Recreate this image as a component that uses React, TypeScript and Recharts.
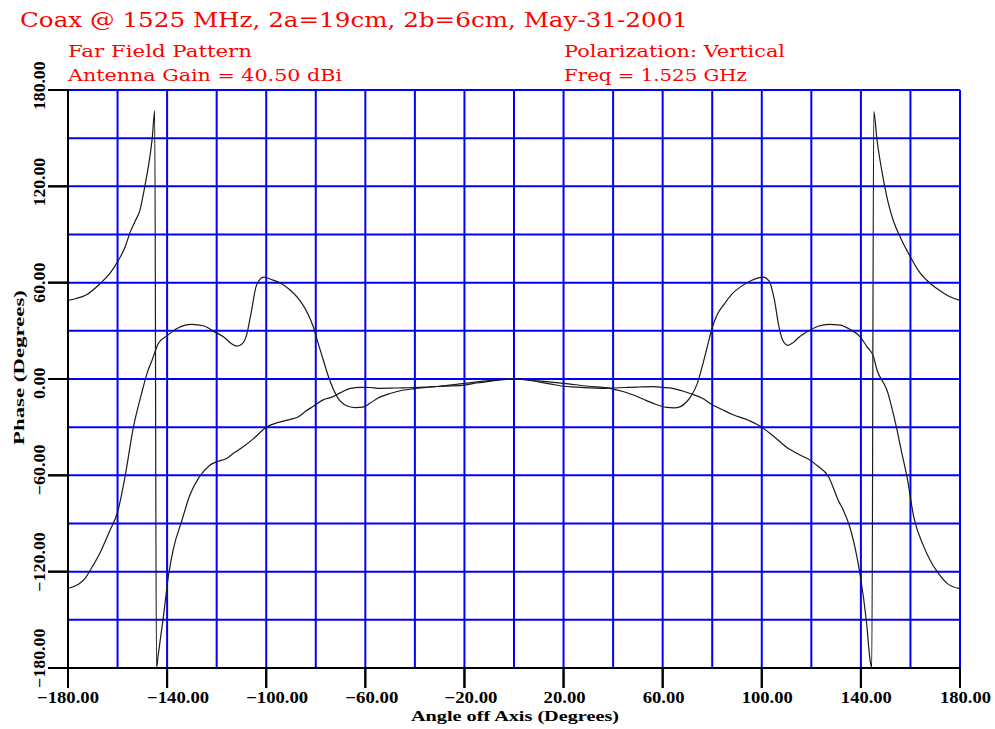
import { LineChart, Line, XAxis, YAxis, CartesianGrid } from "recharts";

// far field phase, two traces, angle in degrees
const gridAngles = [-180, -160, -140, -120, -100, -80, -60, -40, -20, 0, 20, 40, 60, 80, 100, 120, 140, 160, 180];
const gridPhases = [-180, -150, -120, -90, -60, -30, 0, 30, 60, 90, 120, 150, 180];
const angleLabels = [-180, -140, -100, -60, -20, 20, 60, 100, 140, 180];
const phaseLabels = [-180, -120, -60, 0, 60, 120, 180];

const traceAAngles = [
  -180, -177, -172.5, -167, -163, -160, -157, -155, -153, -151, -149, -147, -146, -145,
  -144.3, -143.6, -141.5, -139.5, -137.5, -134, -131, -127, -123, -120, -116, -113, -110,
  -105, -100, -95, -90, -87, -84, -81, -77, -73, -70, -66, -62, -58, -55, -50, -45, -40,
  -35, -30, -25, -20, -15, -10, -5, 0,
  5, 10, 15, 20, 25, 30, 35, 40, 45, 50, 56, 60, 64, 68, 72, 76, 80, 84, 88, 95, 100, 105,
  110, 115, 120, 122, 127, 131, 133, 135.5, 138.3, 139.6, 142.3, 143.7, 144.4, 145.2,
  146.5, 149, 151, 153, 156, 160, 163, 168, 172, 176, 180,
];
const traceAPhases = [
  49, 50, 52.5, 59.5, 66, 73, 82, 91, 98, 105, 120, 138, 150, 167,
  -180, -172, -148, -123, -106, -88, -73, -61, -54, -51.5, -49.5, -46, -43,
  -37, -30, -27, -25, -23.5, -20, -17, -13, -11, -8.5, -5.8, -5.2, -5.3, -5.8, -5.7, -5.5, -5.4,
  -5, -4.5, -4.3, -3.8, -2.5, -1.5, -0.4, 0,
  -0.5, -1.8, -3.2, -4.5, -5, -5.5, -5.8, -5.6, -5.3, -5, -4.8, -5.2, -5.8, -7.5, -9.5, -12, -16, -19, -22, -26, -30, -36,
  -42.5, -47, -51, -53.5, -61, -76, -82, -92, -110, -121, -152, -175, -180, 166.5,
  149, 125, 110, 99, 88, 76, 68, 59.5, 55, 51.2, 49,
];

const traceBAngles = [
  -180, -176, -173, -171, -167, -163, -160, -157, -153.6, -150.3, -148, -146, -143.6, -140,
  -136, -130, -125, -121, -117, -114, -112, -110, -108, -106, -104, -101, -98, -94, -90,
  -86, -83, -81, -79, -77, -75, -73, -70, -67, -64, -61, -58, -55, -50, -45, -40, -30,
  -20, -10, 0,
  10, 20, 30, 38.7, 44, 48.2, 52, 56.2, 61.6, 64.5, 67.2, 69.5, 71.3, 74, 76, 78, 80,
  82, 85, 88, 92, 96, 100.5, 103, 105, 107, 108.5, 110.5, 112.5, 115, 119, 123, 127,
  131.6, 135.5, 139.7, 142.5, 145.1, 146.5, 149.2, 150.5, 152.5, 154.6, 156.5, 158.6,
  161.3, 165.4, 168, 170.8, 174.8, 179.5, 180,
];
const traceBPhases = [
  -130.5, -128, -124, -119, -108, -94, -83, -61, -30, -9, 4, 12, 22, 27,
  31.5, 34, 33, 29.5, 26, 22, 20.5, 21.5, 27, 42, 58, 63.5, 62, 59.5, 55,
  48, 40, 32.5, 22, 12, 2, -6, -14, -17, -17.8, -17.5, -15, -12, -9, -7, -6, -4.5,
  -2.7, -1, 0,
  -1.2, -2.7, -4.5, -5.8, -7.8, -10, -12.5, -15.2, -17.7, -18, -17.2, -14.5, -11, -2.7, 8, 20, 32,
  40, 47, 53, 58, 61.5, 63.5, 61, 50, 32, 24, 21, 22.5, 26, 30, 33, 34,
  33.6, 31, 26.3, 20, 13.9, 5.6, -2.7, -6.8, -18, -31.8, -46, -60.8,
  -85.7, -104.4, -113, -120, -127.3, -130.4, -130.5,
];

const traceA = traceAAngles.map((angle, i) => ({ angle, phase: traceAPhases[i] }));
const traceB = traceBAngles.map((angle, i) => ({ angle, phase: traceBPhases[i] }));

const RED = "#ff0000";
const BLUE = "#0000ff";
const LABEL_FONT = "'Liberation Serif', 'DejaVu Serif', serif";
const TITLE_FONT = "'DejaVu Serif', 'Liberation Serif', serif";

const fmt = (v: number) => (v < 0 ? "\u2212" : "") + Math.abs(v).toFixed(2);

const labelWidth = (s: string, digit: number) => {
  let w = 0;
  for (const ch of s) {
    if (ch === ".") w += 6;
    else if (ch === "\u2212") w += 11;
    else w += digit;
  }
  return w;
};

// tick mark + label; tick props sit 22px out from the axis (tickSize 20 + margin 2)
function AngleTick(props: any) {
  const { x, y, payload } = props;
  const v = payload.value;
  const s = fmt(v);
  const left = v === -180 ? x - 31 : x - 20;
  return (
    <g>
      <line x1={x} y1={y - 22} x2={x} y2={y - 2} stroke="#000" strokeWidth={2} />
      <text
        x={left}
        y={y + 13}
        fontFamily={LABEL_FONT}
        fontWeight="bold"
        fontSize={16}
        fill="#000"
        textLength={labelWidth(s, 9)}
        lengthAdjust="spacingAndGlyphs"
      >
        {s}
      </text>
    </g>
  );
}

function PhaseTick(props: any) {
  const { x, y, payload } = props;
  const s = fmt(payload.value);
  const tx = x - 1;
  const ty = y + 20;
  return (
    <g>
      <line x1={x + 2} y1={y} x2={x + 22} y2={y} stroke="#000" strokeWidth={2} />
      <text
        x={tx}
        y={ty}
        transform={`rotate(-90, ${tx}, ${ty})`}
        fontFamily={LABEL_FONT}
        fontWeight="bold"
        fontSize={16}
        fill="#000"
        textLength={labelWidth(s, 8.5)}
        lengthAdjust="spacingAndGlyphs"
      >
        {s}
      </text>
    </g>
  );
}

export default function App() {
  return (
    <div
      style={{
        position: "absolute",
        left: 0,
        top: 0,
        width: 995,
        height: 729,
        background: "#fff",
      }}
    >
      {/* header and axis titles go underneath the chart layer */}
      <svg
        width={995}
        height={729}
        style={{ position: "absolute", left: 0, top: 0, pointerEvents: "none" }}
      >
        <text x={20} y={27} fontFamily={TITLE_FONT} fontSize={20} fill={RED} textLength={668} lengthAdjust="spacingAndGlyphs">
          Coax @ 1525 MHz, 2a=19cm, 2b=6cm, May-31-2001
        </text>
        <text x={68} y={56.5} fontFamily={TITLE_FONT} fontSize={16} fill={RED} textLength={184} lengthAdjust="spacingAndGlyphs">
          Far Field Pattern
        </text>
        <text x={68} y={81} fontFamily={TITLE_FONT} fontSize={16} fill={RED} textLength={274} lengthAdjust="spacingAndGlyphs">
          Antenna Gain = 40.50 dBi
        </text>
        <text x={564} y={56.5} fontFamily={TITLE_FONT} fontSize={16} fill={RED} textLength={221} lengthAdjust="spacingAndGlyphs">
          Polarization: Vertical
        </text>
        <text x={564} y={81} fontFamily={TITLE_FONT} fontSize={16} fill={RED} textLength={183} lengthAdjust="spacingAndGlyphs">
          Freq = 1.525 GHz
        </text>
        <text
          x={411}
          y={721}
          fontFamily={LABEL_FONT}
          fontWeight="bold"
          fontSize={14}
          fill="#000"
          textLength={208}
          lengthAdjust="spacingAndGlyphs"
        >
          Angle off Axis  (Degrees)
        </text>
        <text
          x={24}
          y={445}
          transform="rotate(-90, 24, 445)"
          fontFamily={LABEL_FONT}
          fontWeight="bold"
          fontSize={14}
          fill="#000"
          textLength={155}
          lengthAdjust="spacingAndGlyphs"
        >
          Phase  (Degrees)
        </text>
      </svg>
      <div style={{ position: "absolute", left: 0, top: 0 }}>
        <LineChart width={995} height={729} margin={{ top: 90, right: 35, bottom: 0, left: 0 }}>
          <CartesianGrid
            stroke={BLUE}
            strokeWidth={2}
            verticalValues={gridAngles}
            horizontalValues={gridPhases}
          />
          <XAxis
            dataKey="angle"
            type="number"
            domain={[-180, 180]}
            ticks={angleLabels}
            interval={0}
            height={61}
            tickSize={20}
            tickMargin={2}
            tickLine={{ stroke: "#000", strokeWidth: 2 }}
            axisLine={{ stroke: "#000", strokeWidth: 2 }}
            tick={AngleTick}
          />
          <YAxis
            type="number"
            domain={[-180, 180]}
            ticks={phaseLabels}
            interval={0}
            width={68}
            tickSize={20}
            tickMargin={2}
            tickLine={{ stroke: "#000", strokeWidth: 2 }}
            axisLine={{ stroke: "#000", strokeWidth: 2 }}
            tick={PhaseTick}
          />
          <Line
            data={traceA}
            dataKey="phase"
            type="monotone"
            dot={false}
            stroke="#1a1a1a"
            strokeWidth={1.2}
            isAnimationActive={false}
          />
          <Line
            data={traceB}
            dataKey="phase"
            type="monotone"
            dot={false}
            stroke="#1a1a1a"
            strokeWidth={1.2}
            isAnimationActive={false}
          />
        </LineChart>
      </div>
    </div>
  );
}
